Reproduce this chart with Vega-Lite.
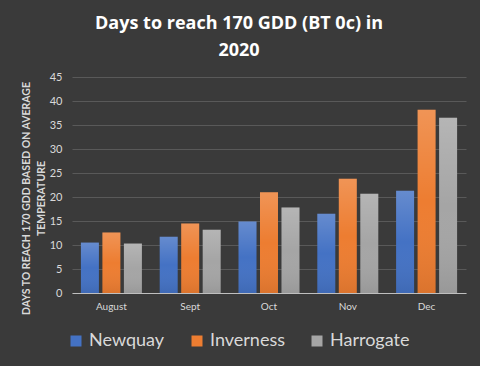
{
  "$schema": "https://vega.github.io/schema/vega-lite/v6.json",
  "width": 394,
  "height": 216,
  "autosize": {"type": "none"},
  "padding": {"left": 72, "top": 77, "right": 14, "bottom": 73},
  "background": "#3a3a3a",
  "title": {
    "text": ["Days to reach 170 GDD (BT 0c) in", "2020"],
    "font": "Open Sans",
    "fontSize": 18,
    "fontWeight": "bold",
    "color": "#ffffff",
    "anchor": "middle",
    "dx": -30,
    "offset": 11,
    "lineHeight": 27
  },
  "data": {
    "values": [
      {"month": "August", "city": "Newquay", "days": 10.5},
      {"month": "August", "city": "Inverness", "days": 12.6},
      {"month": "August", "city": "Harrogate", "days": 10.3},
      {"month": "Sept", "city": "Newquay", "days": 11.7},
      {"month": "Sept", "city": "Inverness", "days": 14.5},
      {"month": "Sept", "city": "Harrogate", "days": 13.2},
      {"month": "Oct", "city": "Newquay", "days": 14.9},
      {"month": "Oct", "city": "Inverness", "days": 21.0},
      {"month": "Oct", "city": "Harrogate", "days": 17.8},
      {"month": "Nov", "city": "Newquay", "days": 16.5},
      {"month": "Nov", "city": "Inverness", "days": 23.8},
      {"month": "Nov", "city": "Harrogate", "days": 20.7},
      {"month": "Dec", "city": "Newquay", "days": 21.3},
      {"month": "Dec", "city": "Inverness", "days": 38.2},
      {"month": "Dec", "city": "Harrogate", "days": 36.5}
    ]
  },
  "encoding": {
    "x": {
      "field": "month",
      "type": "nominal",
      "sort": ["August", "Sept", "Oct", "Nov", "Dec"],
      "scale": {"paddingInner": 0.226, "paddingOuter": 0.113},
      "axis": {
        "title": null,
        "labelAngle": 0,
        "labelFont": "Lato",
        "labelFontSize": 10,
        "labelColor": "#d9d9d9",
        "labelPadding": 8,
        "ticks": false,
        "domain": true,
        "domainColor": "#bfbfbf",
        "domainWidth": 1,
        "grid": false
      }
    },
    "xOffset": {
      "field": "city",
      "type": "nominal",
      "sort": ["Newquay", "Inverness", "Harrogate"],
      "scale": {"paddingInner": 0.163, "paddingOuter": 0}
    },
    "y": {
      "field": "days",
      "type": "quantitative",
      "scale": {"domain": [0, 45], "nice": false},
      "axis": {
        "values": [0, 5, 10, 15, 20, 25, 30, 35, 40, 45],
        "title": ["DAYS TO REACH 170 GDD BASED ON AVERAGE", "TEMPERATURE"],
        "titleFont": "Lato",
        "titleFontSize": 10.5,
        "titleFontWeight": "bold",
        "titleColor": "#d9d9d9",
        "titleLineHeight": 15,
        "titleAngle": -90,
        "titleBaseline": "middle",
        "titleAlign": "center",
        "titleX": -46,
        "titleY": 121,
        "labelFont": "Lato",
        "labelFontSize": 11,
        "labelColor": "#d9d9d9",
        "labelPadding": 10,
        "ticks": false,
        "domain": false,
        "grid": true,
        "gridColor": "#595959",
        "gridWidth": 1
      }
    }
  },
  "layer": [
    {
      "mark": {"type": "bar"},
      "encoding": {
        "color": {
          "field": "city",
          "type": "nominal",
          "scale": {
            "domain": ["Newquay", "Inverness", "Harrogate"],
            "range": ["#4472c4", "#ed7d31", "#a5a5a5"]
          },
          "legend": {
            "title": null,
            "orient": "none",
            "direction": "horizontal",
            "legendX": -5,
            "legendY": 255,
            "labelFont": "Lato",
            "labelFontSize": 18,
            "labelColor": "#d9d9d9",
            "labelOffset": 4,
            "columnPadding": 23,
            "symbolType": "square",
            "symbolSize": 121,
            "symbolStrokeWidth": 0,
            "symbolOpacity": 1
          }
        }
      }
    },
    {
      "mark": {
        "type": "bar",
        "fill": {
          "gradient": "linear",
          "x1": 0, "y1": 0, "x2": 0, "y2": 1,
          "stops": [
            {"offset": 0, "color": "rgba(255,255,255,0.18)"},
            {"offset": 0.5, "color": "rgba(255,255,255,0.0)"},
            {"offset": 1, "color": "rgba(0,0,0,0.08)"}
          ]
        }
      }
    }
  ],
  "config": {"view": {"stroke": null}}
}
